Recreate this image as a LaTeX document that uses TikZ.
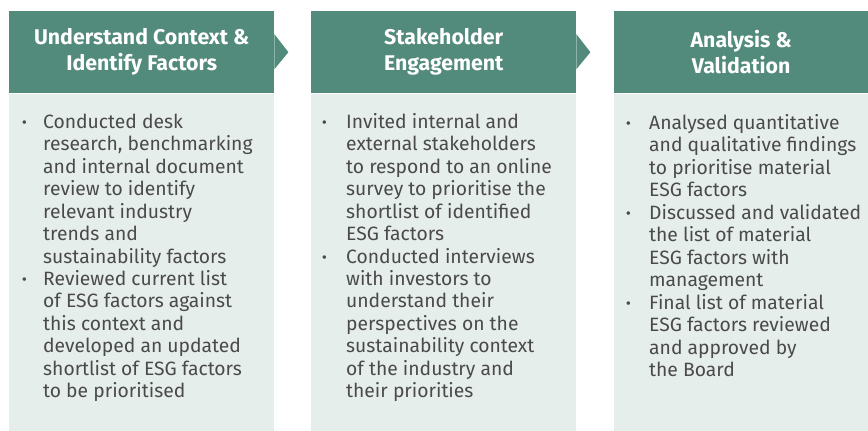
\documentclass[tikz,border=0pt]{standalone}
\usepackage{fontspec}
\setmainfont{Fira Sans}
\usetikzlibrary{positioning}
\definecolor{hdrgreen}{HTML}{528A7B}
\definecolor{panelgrey}{HTML}{E6EEEC}
\definecolor{txtgrey}{HTML}{4A4A4A}

\tikzset{
    header/.style={fill=hdrgreen, minimum height=82pt, inner sep=0pt,
        text=white, align=center, anchor=north west,
        font=\fontsize{21.3}{26}\selectfont\bfseries},
    panel/.style={fill=panelgrey, minimum height=338pt, inner sep=0pt},
    chevron/.style={fill=hdrgreen},
    bullets/.style={text=txtgrey, inner sep=0pt, anchor=base west,
        font=\fontsize{19.3}{22.5}\selectfont}
}
\newcommand{\bul}{\makebox[0pt][l]{\textbf{·}}}

\begin{document}
\begin{tikzpicture}[x=1pt, y=-1pt]
    \useasboundingbox (0,0) rectangle (868,431);

    % headers
    \node[header, minimum width=265pt] (hd1) at (9,11) {Understand Context \&\\Identify Factors};
    \node[header, minimum width=265pt] (hd2) at (311,11) {Stakeholder\\Engagement};
    \node[header, minimum width=254pt] (hd3) at (614,11) {Analysis \&\\Validation};

    % chevrons
    \fill[chevron] (hd1.east) ++(0,-18) -- ++(14,18) -- ++(-14,17) -- cycle;
    \fill[chevron] (hd2.east) ++(0,-18) -- ++(14,18) -- ++(-14,17) -- cycle;

    % panels
    \node[panel, minimum width=265pt, below=0pt of hd1] (pn1) {};
    \node[panel, minimum width=265pt, below=0pt of hd2] (pn2) {};
    \node[panel, minimum width=254pt, below=0pt of hd3] (pn3) {};

    % text
    \node[bullets] (tx1) at (22,128) {\begin{tabular}[t]{@{}p{21pt}@{}l@{}}
        \bul & Conducted desk\\
        & research, benchmarking\\
        & and internal document\\
        & review to identify\\
        & relevant industry\\
        & trends and\\
        & sustainability factors\\
        \bul & Reviewed current list\\
        & of ESG factors against\\
        & this context and\\
        & developed an updated\\
        & shortlist of ESG factors\\
        & to be prioritised
    \end{tabular}};
    \node[bullets] (tx2) at (322,128) {\begin{tabular}[t]{@{}p{24pt}@{}l@{}}
        \bul & Invited internal and\\
        & external stakeholders\\
        & to respond to an online\\
        & survey to prioritise the\\
        & shortlist of identified\\
        & ESG factors\\
        \bul & Conducted interviews\\
        & with investors to\\
        & understand their\\
        & perspectives on the\\
        & sustainability context\\
        & of the industry and\\
        & their priorities
    \end{tabular}};
    \node[bullets] (tx3) at (626,129) {\begin{tabular}[t]{@{}p{23pt}@{}l@{}}
        \bul & Analysed quantitative\\
        & and qualitative findings\\
        & to prioritise material\\
        & ESG factors\\
        \bul & Discussed and validated\\
        & the list of material\\
        & ESG factors with\\
        & management\\
        \bul & Final list of material\\
        & ESG factors reviewed\\
        & and approved by\\
        & the Board
    \end{tabular}};
\end{tikzpicture}
\end{document}
